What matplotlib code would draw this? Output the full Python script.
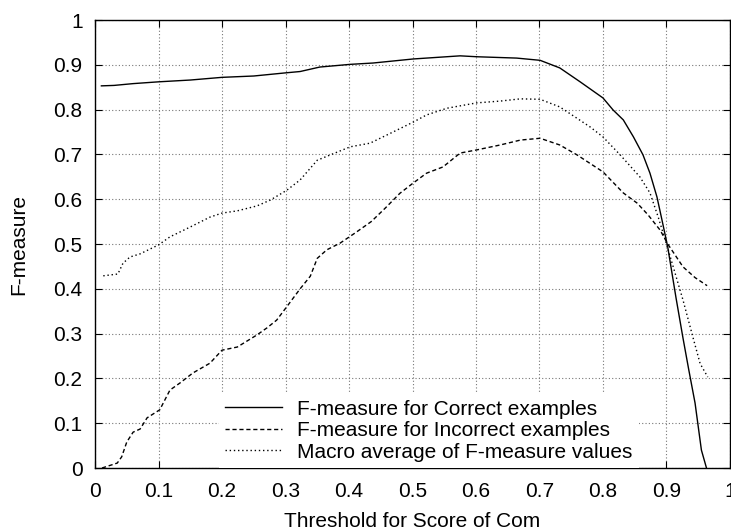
import matplotlib.pyplot as plt

plt.rcParams['font.family'] = ['Liberation Sans', 'DejaVu Sans']

# F-measure for Correct examples (solid)
x_correct = [0.01, 0.03, 0.06, 0.1, 0.15, 0.2, 0.25, 0.3, 0.323, 0.354, 0.402, 0.438, 0.501,
             0.522, 0.575, 0.601, 0.664, 0.701, 0.732, 0.764, 0.8, 0.816, 0.832, 0.848, 0.863,
             0.874, 0.885, 0.893, 0.902, 0.915, 0.926, 0.935, 0.945, 0.955, 0.963]
y_correct = [0.853, 0.854, 0.858, 0.862, 0.866, 0.872, 0.875, 0.882, 0.885, 0.895, 0.901, 0.904, 0.913,
             0.915, 0.92, 0.918, 0.915, 0.91, 0.893, 0.862, 0.826, 0.799, 0.777, 0.739, 0.699,
             0.658, 0.605, 0.553, 0.493, 0.38, 0.29, 0.22, 0.145, 0.04, 0.0]

# F-measure for Incorrect examples (dashed)
x_incorrect = [0.011, 0.035, 0.042, 0.05, 0.06, 0.071, 0.082, 0.102, 0.118, 0.134, 0.154, 0.181,
               0.2, 0.224, 0.255, 0.271, 0.286, 0.302, 0.323, 0.339, 0.35, 0.365, 0.386, 0.41,
               0.435, 0.457, 0.48, 0.501, 0.522, 0.548, 0.575, 0.601, 0.638, 0.67, 0.701, 0.732,
               0.759, 0.8, 0.832, 0.854, 0.871, 0.89, 0.902, 0.926, 0.945, 0.964]
y_incorrect = [0.0, 0.011, 0.025, 0.058, 0.08, 0.087, 0.112, 0.13, 0.174, 0.19, 0.212, 0.234,
               0.263, 0.27, 0.297, 0.313, 0.33, 0.36, 0.4, 0.428, 0.468, 0.487, 0.502, 0.525,
               0.55, 0.58, 0.613, 0.636, 0.658, 0.672, 0.703, 0.71, 0.721, 0.732, 0.736, 0.721,
               0.699, 0.661, 0.614, 0.591, 0.565, 0.531, 0.5, 0.449, 0.425, 0.407]

# Macro average of F-measure values (dotted)
x_macro = [0.013, 0.036, 0.044, 0.055, 0.071, 0.1, 0.118, 0.15, 0.181, 0.2, 0.224, 0.255, 0.276,
           0.302, 0.323, 0.35, 0.402, 0.433, 0.465, 0.501, 0.522, 0.554, 0.601, 0.638, 0.67,
           0.701, 0.732, 0.78, 0.8, 0.827, 0.858, 0.874, 0.887, 0.9, 0.926, 0.942, 0.953, 0.965]
y_macro = [0.429, 0.433, 0.457, 0.471, 0.478, 0.498, 0.516, 0.538, 0.56, 0.569, 0.574, 0.585, 0.598,
           0.62, 0.643, 0.687, 0.717, 0.725, 0.747, 0.772, 0.788, 0.803, 0.815, 0.819, 0.824,
           0.823, 0.806, 0.761, 0.739, 0.699, 0.65, 0.614, 0.56, 0.5, 0.375, 0.29, 0.233, 0.203]

labels = ['F-measure for Correct examples',
          'F-measure for Incorrect examples',
          'Macro average of F-measure values']

fig = plt.figure(figsize=(7.31, 5.32), dpi=100)
ax = fig.add_axes([0.130, 0.1203, 0.8686, 0.8421])

ax.plot(x_correct, y_correct, color='black', lw=1.0, ls='-', label=labels[0])
ax.plot(x_incorrect, y_incorrect, color='black', lw=1.0, ls=(0, (3, 2)), label=labels[1])
ax.plot(x_macro, y_macro, color='black', lw=1.0, ls=(0, (1, 2)), label=labels[2])

ax.set_xlim(0, 1)
ax.set_ylim(0, 1)
ticks = [i / 10 for i in range(11)]
tick_labels = ['0'] + ['%.1f' % t for t in ticks[1:-1]] + ['1']
ax.set_xticks(ticks)
ax.set_xticklabels(tick_labels)
ax.set_yticks(ticks)
ax.set_yticklabels(tick_labels)
ax.tick_params(direction='in', length=5, width=0.8, top=True, right=True, labelsize=15)
ax.tick_params(axis='x', pad=10)
ax.tick_params(axis='y', pad=9)
ax.grid(True, color='#777777', ls=(0, (1, 2)), lw=0.8)
for s in ax.spines.values():
  s.set_linewidth(1.0)

ax.set_xlabel('Threshold for Score of Com', fontsize=15, labelpad=8)
ax.set_ylabel('F-measure', fontsize=15, labelpad=18)

leg = ax.legend(loc='lower left', bbox_to_anchor=(0.195, 0.0), fontsize=15,
                frameon=True, fancybox=False, framealpha=1, edgecolor='white',
                handlelength=2.74, handletextpad=0.72, labelspacing=0.12,
                borderaxespad=0, borderpad=0.3)
leg.get_frame().set_linewidth(0)

fig.savefig('out.png', dpi=100)
